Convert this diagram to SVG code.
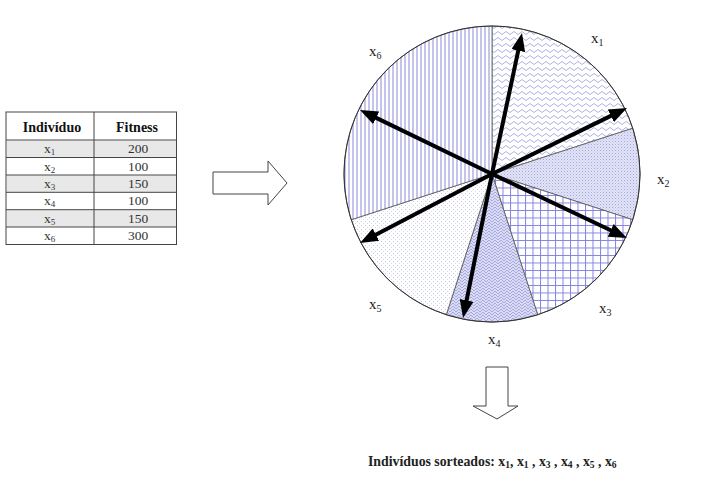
<svg xmlns="http://www.w3.org/2000/svg" width="703" height="482" viewBox="0 0 703 482">
<style>
text{font-family:"Liberation Serif","Times New Roman",serif;fill:#222}
.hd{font-size:14px;font-weight:bold;fill:#111}
.cell{font-size:13.5px;fill:#333}
.lab{font-size:15px;fill:#222}
.grid{stroke:#444;stroke-width:1;fill:none}
.sec{stroke:#555;stroke-width:0.8}
.arr{stroke:#000;stroke-width:4;fill:none;marker-end:url(#ah)}
.block{fill:#fff;stroke:#444;stroke-width:1}
</style>
<defs>
<marker id="ah" viewBox="0 0 18 14" refX="4" refY="7" markerWidth="18" markerHeight="14" markerUnits="userSpaceOnUse" orient="auto">
<path d="M0,0 L18,7 L0,14 z" fill="#000"/>
</marker>
<pattern id="p1" width="8" height="6" patternUnits="userSpaceOnUse">
<rect width="8" height="6" fill="#fff"/>
<path d="M0,3 Q2,0 4,3 Q6,6 8,3" fill="none" stroke="#9a9adc" stroke-width="0.8"/>
</pattern>
<pattern id="p2" width="3" height="3" patternUnits="userSpaceOnUse">
<rect width="3" height="3" fill="#e2e3f6"/>
<rect x="0" y="0" width="1" height="1" fill="#a4a8e0"/>
<rect x="1.5" y="1.5" width="1" height="1" fill="#bcbfe8"/>
</pattern>
<pattern id="p3" width="7.5" height="7.5" patternUnits="userSpaceOnUse">
<rect width="7.5" height="7.5" fill="#fff"/>
<path d="M0,0.5 H7.5 M0.5,0 V7.5" stroke="#8484e0" stroke-width="1"/>
</pattern>
<pattern id="p4" width="6" height="6" patternUnits="userSpaceOnUse">
<rect width="6" height="6" fill="#d9daf3"/>
<path d="M0,3 L3,0 L6,3 M0,6 L3,3 L6,6" fill="none" stroke="#a2a4dc" stroke-width="0.9"/>
</pattern>
<pattern id="p5" width="4" height="4" patternUnits="userSpaceOnUse">
<rect width="4" height="4" fill="#fff"/>
<rect x="1" y="1" width="1" height="1" fill="#c4c6e4"/>
<rect x="3" y="3" width="1" height="1" fill="#d6d8ee"/>
</pattern>
<pattern id="p6" width="4" height="4" patternUnits="userSpaceOnUse">
<rect width="4" height="4" fill="#fff"/>
<path d="M1,0 V4" stroke="#8a8adc" stroke-width="1"/>
</pattern>
</defs>
<rect width="703" height="482" fill="#fff"/>

<g id="table">
<rect x="7" y="140.5" width="169" height="17" fill="#e8e8e8"/>
<rect x="7" y="175.3" width="169" height="17" fill="#e8e8e8"/>
<rect x="7" y="210" width="169" height="17" fill="#e8e8e8"/>
<rect class="grid" x="6" y="112" width="170.5" height="132.5"/>
<path class="grid" d="M94,112 V244.5 M6,140 H176.5 M6,157.5 H176.5 M6,175 H176.5 M6,192.3 H176.5 M6,209.7 H176.5 M6,227 H176.5"/>
<text class="hd" x="52" y="132" text-anchor="middle">Indivíduo</text>
<text class="hd" x="137" y="132" text-anchor="middle">Fitness</text>
<g>
<text class="cell" x="44" y="153">x<tspan font-size="9" dy="2">1</tspan></text>
<text class="cell" x="44" y="170.5">x<tspan font-size="9" dy="2">2</tspan></text>
<text class="cell" x="44" y="188">x<tspan font-size="9" dy="2">3</tspan></text>
<text class="cell" x="44" y="205.3">x<tspan font-size="9" dy="2">4</tspan></text>
<text class="cell" x="44" y="222.7">x<tspan font-size="9" dy="2">5</tspan></text>
<text class="cell" x="44" y="240">x<tspan font-size="9" dy="2">6</tspan></text>
<text class="cell" x="138" y="153" text-anchor="middle">200</text>
<text class="cell" x="138" y="170.5" text-anchor="middle">100</text>
<text class="cell" x="138" y="188" text-anchor="middle">150</text>
<text class="cell" x="138" y="205.3" text-anchor="middle">100</text>
<text class="cell" x="138" y="222.7" text-anchor="middle">150</text>
<text class="cell" x="138" y="240" text-anchor="middle">300</text>
</g>
</g>

<g id="arrow-right">
<path class="block" d="M213,172 H268 V161 L287,183 L268,205 V194 H213 Z"/>
</g>

<g id="wheel">
<path id="s1" class="sec" fill="url(#p1)" d="M492,174 L492,26 A148,148 0 0 1 632.76,128.27 Z"/>
<path id="s2" class="sec" fill="url(#p2)" d="M492,174 L632.76,128.27 A148,148 0 0 1 632.76,219.73 Z"/>
<path id="s3" class="sec" fill="url(#p3)" d="M492,174 L632.76,219.73 A148,148 0 0 1 537.73,314.76 Z"/>
<path id="s4" class="sec" fill="url(#p4)" d="M492,174 L537.73,314.76 A148,148 0 0 1 446.27,314.76 Z"/>
<path id="s5" class="sec" fill="url(#p5)" d="M492,174 L446.27,314.76 A148,148 0 0 1 351.24,219.73 Z"/>
<path id="s6" class="sec" fill="url(#p6)" d="M492,174 L351.24,219.73 A148,148 0 0 1 492,26 Z"/>
<circle cx="492" cy="174" r="148" fill="none" stroke="#333" stroke-width="1"/>
</g>

<g id="connectors">
<line class="arr" x1="492" y1="174" x2="519.1" y2="46.7"/>
<line class="arr" x1="492" y1="174" x2="614.4" y2="114.1"/>
<line class="arr" x1="492" y1="174" x2="614.3" y2="232"/>
<line class="arr" x1="492" y1="174" x2="465.8" y2="304.3"/>
<line class="arr" x1="492" y1="174" x2="372.4" y2="236.5"/>
<line class="arr" x1="492" y1="174" x2="372.6" y2="116.1"/>
</g>

<g id="labels">
<text class="lab" x="591" y="43">x<tspan font-size="10" dy="3">1</tspan></text>
<text class="lab" x="657" y="184">x<tspan font-size="10" dy="3">2</tspan></text>
<text class="lab" x="599" y="313">x<tspan font-size="10" dy="3">3</tspan></text>
<text class="lab" x="488" y="344">x<tspan font-size="10" dy="3">4</tspan></text>
<text class="lab" x="369" y="309">x<tspan font-size="10" dy="3">5</tspan></text>
<text class="lab" x="369" y="56">x<tspan font-size="10" dy="3">6</tspan></text>
</g>

<g id="arrow-down">
<path class="block" d="M486,367 H508 V406 H518 L497,419 L473,406 H486 Z"/>
</g>

<g id="result">
<text x="368" y="466" font-size="13.8" font-weight="bold" fill="#111">Indivíduos sorteados: x<tspan font-size="9.5" dy="2">1</tspan><tspan dy="-2">, x</tspan><tspan font-size="9.5" dy="2">1</tspan><tspan dy="-2"> , x</tspan><tspan font-size="9.5" dy="2">3</tspan><tspan dy="-2"> , x</tspan><tspan font-size="9.5" dy="2">4</tspan><tspan dy="-2"> , x</tspan><tspan font-size="9.5" dy="2">5</tspan><tspan dy="-2"> , x</tspan><tspan font-size="9.5" dy="2">6</tspan></text>
</g>
</svg>
